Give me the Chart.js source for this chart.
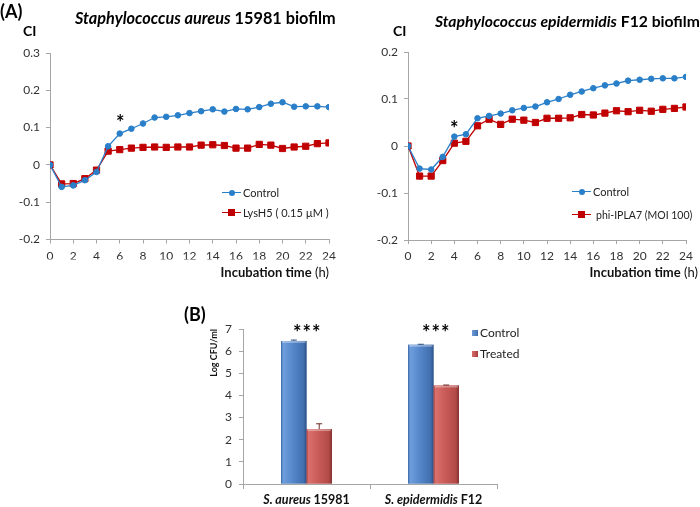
<!DOCTYPE html>
<html>
<head>
<meta charset="utf-8">
<script src="https://cdn.jsdelivr.net/npm/chart.js@4.4.1/dist/chart.umd.min.js"></script>
<style>
  html, body { margin:0; padding:0; background:#fff; }
  #page { position:relative; width:700px; height:507px; overflow:hidden; font-family: Lato, "Liberation Sans", sans-serif; color:#000; }
  canvas { position:absolute; }
  .t { position:absolute; white-space:nowrap; line-height:1; }
  .b { font-weight:bold; }
  .i { font-style:italic; }
  .leg { position:absolute; height:14px; white-space:nowrap; font-size:11px; line-height:14px; color:#222; }
  .leg .ln { position:absolute; left:0; top:6px; width:19px; height:1.4px; }
  .leg .mk { position:absolute; }
  .leg .tx { position:absolute; top:0; }
  .sw { position:absolute; width:6px; height:6px; }
</style>
</head>
<body>
<div id="page">
  <canvas id="c1" style="left:0;top:0" width="350" height="290"></canvas>
  <canvas id="c2" style="left:350px;top:0" width="350" height="290"></canvas>
  <canvas id="c3" style="left:180px;top:300px" width="360" height="207"></canvas>

  <div class="t b" style="left:0;top:2px;font-size:18px">(A)</div>
  <div class="t b" style="left:75px;top:10px;font-size:16.3px"><span class="i">Staphylococcus aureus</span> 15981 biofilm</div>
  <div class="t b" style="left:435px;top:14px;font-size:15.7px"><span class="i">Staphylococcus epidermidis</span> F12 biofilm</div>
  <div class="t b" style="left:23px;top:24px;font-size:14px">CI</div>
  <div class="t b" style="left:393px;top:24px;font-size:14px">CI</div>
  <div class="t b" style="left:116px;top:112px;font-size:20px">*</div>
  <div class="t b" style="left:450px;top:118px;font-size:20px">*</div>
  <div class="t" style="right:371px;top:266px;font-size:13px;color:#111"><span class="b">Incubation time</span> (h)</div>
  <div class="t" style="right:2px;top:266px;font-size:13px;color:#111"><span class="b">Incubation time</span> (h)</div>

  <div class="leg" style="left:222px;top:186px"><span class="ln" style="background:#2A7FC9"></span><span class="mk" style="left:7px;top:4px;width:6px;height:6px;border-radius:50%;background:#2A7FC9"></span><span class="tx" style="left:21px">Control</span></div>
  <div class="leg" style="left:222px;top:206px"><span class="ln" style="background:#C00000"></span><span class="mk" style="left:6px;top:3px;width:7px;height:7px;background:#C00000"></span><span class="tx" style="left:21px">LysH5 ( 0.15 µM )</span></div>
  <div class="leg" style="left:572px;top:185px"><span class="ln" style="background:#2A7FC9"></span><span class="mk" style="left:7px;top:4px;width:6px;height:6px;border-radius:50%;background:#2A7FC9"></span><span class="tx" style="left:21px">Control</span></div>
  <div class="leg" style="left:572px;top:208px"><span class="ln" style="background:#C00000"></span><span class="mk" style="left:6px;top:3px;width:7px;height:7px;background:#C00000"></span><span class="tx" style="left:24px;font-size:10.5px">phi-IPLA7 (MOI 100)</span></div>

  <div class="t b" style="left:184px;top:305px;font-size:18px">(B)</div>
  <div class="t b" style="left:293px;top:322px;font-size:20px;letter-spacing:1px">***</div>
  <div class="t b" style="left:422px;top:322px;font-size:20px;letter-spacing:1px">***</div>
  <div class="sw" style="left:472px;top:330px;background:linear-gradient(90deg,#6E9BD6,#3F6FAE)"></div>
  <div class="t" style="left:480px;top:327px;font-size:12px;color:#222">Control</div>
  <div class="sw" style="left:472px;top:351px;background:linear-gradient(90deg,#D66E6B,#A83F3C)"></div>
  <div class="t" style="left:480px;top:348px;font-size:12px;color:#222">Treated</div>
</div>

<script>
// ---------- data ----------
const hours = [0,1,2,3,4,5,6,7,8,9,10,11,12,13,14,15,16,17,18,19,20,21,22,23,24];
const saControl = [0,-0.059,-0.055,-0.041,-0.019,0.050,0.084,0.097,0.111,0.127,0.129,0.133,0.139,0.144,0.149,0.143,0.150,0.149,0.155,0.164,0.168,0.156,0.157,0.157,0.155];
const saLysH5   = [0,-0.051,-0.050,-0.037,-0.014,0.037,0.041,0.045,0.047,0.048,0.047,0.048,0.048,0.053,0.054,0.052,0.045,0.045,0.055,0.053,0.044,0.048,0.050,0.057,0.059];
const seControl = [0,-0.048,-0.050,-0.023,0.020,0.025,0.059,0.064,0.069,0.076,0.081,0.084,0.093,0.100,0.109,0.116,0.123,0.129,0.133,0.139,0.141,0.143,0.144,0.144,0.147];
const sePhi     = [0,-0.064,-0.064,-0.031,0.006,0.010,0.043,0.057,0.046,0.057,0.055,0.050,0.059,0.059,0.060,0.067,0.066,0.070,0.075,0.073,0.076,0.074,0.078,0.080,0.083];

const barSpecies = ['S. aureus', 'S. epidermidis'];
const barStrain  = ['15981', 'F12'];
const barControl = [6.46, 6.29];
const barTreated = [2.48, 4.45];
const errControl = [0.04, 0.02];
const errTreated = [0.24, 0.02];

// ---------- styles ----------
const FONT = 'Lato, "Liberation Sans", sans-serif';
const BLUE = '#2A7FC9', RED = '#C00000', AXIS = '#A6A6A6', TICK = '#333';
Chart.defaults.font.family = FONT;
Chart.defaults.animation = false;

const pts = (vals) => hours.map((h, i) => ({x: h, y: vals[i]}));

function lineChart(id, a, b, yMin, yMax, pad) {
  return new Chart(document.getElementById(id), {
    type: 'line',
    data: { datasets: [
      { data: pts(a), borderColor: BLUE, backgroundColor: BLUE, borderWidth: 1.3, pointStyle: 'circle', pointRadius: 2.8, pointBorderWidth: 1, tension: 0 },
      { data: pts(b), borderColor: RED, backgroundColor: RED, borderWidth: 1.3, pointStyle: 'rect', pointRadius: 4.4, pointBorderWidth: 1, tension: 0 }
    ]},
    options: {
      responsive: false, animation: false,
      layout: { padding: pad },
      plugins: { legend: { display: false }, tooltip: { enabled: false } },
      scales: {
        x: { type: 'linear', min: 0, max: 24,
             afterFit: s => { s.height = 20; },
             ticks: { stepSize: 2, color: TICK, font: { size: 12 }, padding: 5, maxRotation: 0 },
             grid: { drawOnChartArea: false, color: AXIS, tickLength: 4 },
             border: { color: AXIS } },
        y: { min: yMin, max: yMax,
             afterFit: s => { s.width = pad.yw; },
             ticks: { stepSize: 0.1, color: TICK, font: { size: 12 }, padding: 6,
                      callback: v => String(Number(v.toFixed(1))) },
             grid: { drawOnChartArea: false, color: AXIS, tickLength: 4 },
             border: { color: AXIS } }
      }
    }
  });
}

lineChart('c1', saControl, saLysH5, -0.2, 0.3, { left: 0, right: 21, top: 53, bottom: 30.5, yw: 50 });
lineChart('c2', seControl, sePhi, -0.2, 0.2, { left: 0, right: 14, top: 52, bottom: 30, yw: 58 });

// ---------- bar chart ----------
const barDeco = {
  id: 'barDeco',
  afterDatasetsDraw(chart) {
    const ctx = chart.ctx;
    const yS = chart.scales.y;
    const shades = [
      ['#3A68A6', '#6F9EDC', '#5588CB', '#416FAF', '#2D5187'],
      ['#A23E3B', '#D9706D', '#C95B58', '#B24B48', '#7F2E2C']
    ];
    const errs = [errControl, errTreated];
    chart.data.datasets.forEach((ds, di) => {
      const meta = chart.getDatasetMeta(di);
      meta.data.forEach((bar, i) => {
        const l = bar.x - bar.width / 2, r = bar.x + bar.width / 2;
        const g = ctx.createLinearGradient(l, 0, r, 0);
        const c = shades[di];
        g.addColorStop(0, c[0]); g.addColorStop(0.08, c[1]); g.addColorStop(0.45, c[2]);
        g.addColorStop(0.88, c[3]); g.addColorStop(1, c[4]);
        ctx.save();
        ctx.fillStyle = g;
        ctx.fillRect(l, bar.y, r - l, bar.base - bar.y);
        ctx.fillStyle = 'rgba(255,255,255,0.35)';
        ctx.fillRect(l + 1, bar.y, r - l - 2, 2);
        // error bar
        const v = ds.data[i], e = errs[di][i];
        const yTop = yS.getPixelForValue(v + e);
        ctx.strokeStyle = di === 0 ? '#2D4F80' : '#6B2A28';
        ctx.lineWidth = 1;
        ctx.beginPath();
        ctx.moveTo(bar.x, bar.y); ctx.lineTo(bar.x, yTop);
        ctx.moveTo(bar.x - 3, yTop); ctx.lineTo(bar.x + 3, yTop);
        ctx.stroke();
        ctx.restore();
      });
    });
    // mixed-style category labels
    const xS = chart.scales.x;
    ctx.save();
    ctx.fillStyle = '#111';
    ctx.textBaseline = 'middle';
    barSpecies.forEach((sp, i) => {
      const cx = xS.getPixelForValue(i);
      const fI = 'italic bold 12.5px ' + FONT, fN = 'bold 12.5px ' + FONT;
      ctx.font = fI; const w1 = ctx.measureText(sp + ' ').width;
      ctx.font = fN; const w2 = ctx.measureText(barStrain[i]).width;
      const x0 = cx - (w1 + w2) / 2, y = xS.top + 16;
      ctx.textAlign = 'left';
      ctx.font = fI; ctx.fillText(sp + ' ', x0, y);
      ctx.font = fN; ctx.fillText(barStrain[i], x0 + w1, y);
    });
    ctx.restore();
  }
};

new Chart(document.getElementById('c3'), {
  type: 'bar',
  data: {
    labels: barSpecies.map((s, i) => s + ' ' + barStrain[i]),
    datasets: [
      { label: 'Control', data: barControl, backgroundColor: '#4F81BD' },
      { label: 'Treated', data: barTreated, backgroundColor: '#C0504D' }
    ]
  },
  options: {
    responsive: false, animation: false,
    layout: { padding: { left: 20, right: 43, top: 29, bottom: 0 } },
    datasets: { bar: { categoryPercentage: 0.4, barPercentage: 1.0 } },
    plugins: { legend: { display: false }, tooltip: { enabled: false } },
    scales: {
      x: { afterFit: s => { s.height = 23; },
           ticks: { display: false },
           grid: { drawOnChartArea: false, color: AXIS, tickLength: 5, offset: true },
           border: { color: AXIS } },
      y: { min: 0, max: 7,
           afterFit: s => { s.width = 43; },
           title: { display: true, text: 'Log CFU/ml', align: 'end', font: { size: 9, weight: 'bold' }, color: '#111', padding: { top: 9, bottom: 0 } },
           ticks: { stepSize: 1, color: TICK, font: { size: 12 }, padding: 7 },
           grid: { drawOnChartArea: false, color: AXIS, tickLength: 4 },
           border: { color: AXIS } }
    }
  },
  plugins: [barDeco]
});
</script>
</body>
</html>
